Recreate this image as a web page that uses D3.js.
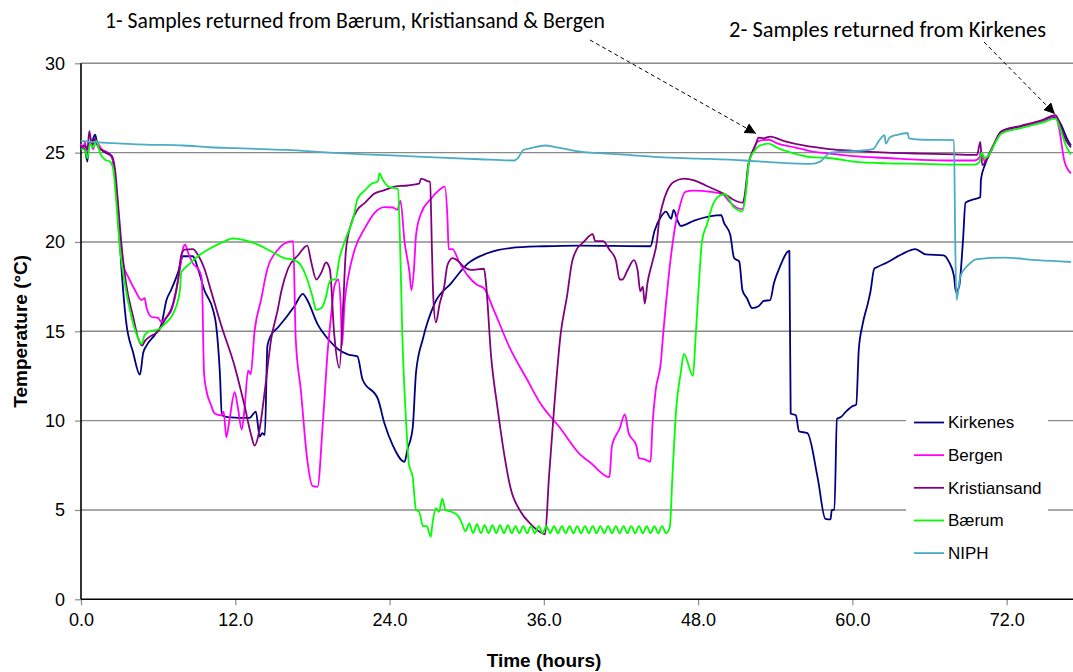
<!DOCTYPE html>
<html>
<head>
<meta charset="utf-8">
<script src="https://cdn.jsdelivr.net/npm/d3@7"></script>
<style>
  html, body { margin: 0; padding: 0; background: #fff; }
  svg { display: block; font-family: "Liberation Sans", Arial, sans-serif; }
</style>
</head>
<body>
<svg id="chart" width="1073" height="672"></svg>
<script>
// ---- data (hours, °C) ----
const seriesNames = ["Kirkenes", "Bergen", "Kristiansand", "Bærum", "NIPH"];
const yTicks = [0, 5, 10, 15, 20, 25, 30];
const xTicks = [0, 12, 24, 36, 48, 60, 72];

const kirkenes = [[0,25.3],[0.3,25.2],[0.5,24.5],[0.6,25.4],[0.85,25.6],[1.1,26.0],[1.3,25.4],[1.9,25.0],[2.4,24.8],[2.6,23.9],[2.9,21.4],[3.15,18.5],[3.5,15.6],[4.06,13.8],[4.58,12.57],[4.84,13.8],[5.1,14.2],[5.74,14.8],[6.26,15.4],[6.65,16.75],[7.0,17.3],[7.55,18.3],[7.94,19.2],[8.7,19.2],[9.1,18.5],[9.6,17.3],[10.27,16.2],[10.5,15.4],[10.8,12.7],[10.96,10.3],[11.4,10.2],[13.1,10.15],[13.6,10.5],[13.9,9.1],[14.1,9.3],[14.3,9.2],[14.5,14.2],[14.8,14.8],[15.3,15.2],[16.6,16.4],[17.25,17.1],[17.6,16.75],[18.4,15.4],[19.3,14.5],[20.0,14.0],[20.8,13.7],[21.5,13.6],[21.9,12.3],[23.1,11.2],[23.6,9.85],[24.26,8.6],[25.16,7.7],[25.4,8.4],[25.8,9.6],[26.06,12.7],[26.6,14.6],[27.5,16.55],[28.8,17.7],[30.1,18.8],[31.6,19.37],[33.4,19.66],[36.0,19.76],[38.7,19.8],[44.3,19.76],[44.6,20.6],[45.1,21.4],[45.5,21.7],[45.9,21.3],[46.1,21.8],[46.4,21.2],[46.65,20.9],[47.7,21.2],[49.0,21.45],[49.8,21.5],[50.0,21.1],[50.5,20.4],[50.8,19.1],[51.2,18.9],[51.45,17.3],[51.8,16.85],[52.2,16.3],[52.7,16.4],[53.1,16.7],[53.6,16.75],[53.9,17.7],[54.3,18.5],[55.1,19.5],[55.2,10.4],[55.6,10.3],[55.85,9.4],[56.5,9.3],[57.3,6.8],[57.9,4.5],[58.3,4.47],[58.4,5.0],[58.6,5.0],[58.8,10.1],[59.1,10.2],[59.5,10.5],[60.0,10.8],[60.3,10.9],[60.5,14.0],[60.8,15.4],[61.2,16.55],[61.4,17.2],[61.7,18.5],[61.95,18.6],[62.7,18.85],[63.8,19.3],[64.9,19.6],[65.7,19.3],[67.1,19.25],[67.5,18.9],[67.9,18.1],[68.05,17.2],[68.3,17.5],[68.6,20.05],[68.8,22.2],[69.5,22.4],[69.95,22.5],[70.0,23.5],[70.3,24.3],[70.8,25.1],[71.6,26.2],[73.1,26.46],[74.7,26.75],[75.8,27.0],[76.2,26.6],[76.75,25.7],[77.0,25.4]];

const bergen = [[0,25.5],[0.2,25.2],[0.3,25.6],[0.45,25.1],[0.7,25.6],[0.95,25.2],[1.14,25.65],[1.6,25.2],[2.25,24.9],[2.5,24.5],[2.77,22.6],[3.0,20.05],[3.3,18.7],[3.7,18.0],[4.2,17.3],[4.7,16.75],[4.95,16.85],[5.1,16.3],[5.5,15.8],[6.0,15.75],[6.26,15.5],[6.65,15.8],[7.0,16.1],[7.4,17.2],[7.7,18.5],[7.94,19.66],[8.1,19.85],[8.33,19.4],[8.7,18.8],[9.2,18.4],[9.4,17.9],[9.57,12.67],[9.75,11.7],[10.1,10.9],[10.4,10.4],[10.9,10.3],[11.1,10.5],[11.3,9.07],[11.56,10.1],[11.95,11.6],[12.2,10.75],[12.5,9.5],[12.7,10.5],[13.0,12.8],[13.2,12.6],[13.5,15.0],[14.0,16.75],[14.5,18.5],[15.3,19.55],[15.8,19.9],[16.5,20.05],[16.7,14.6],[17.1,11.7],[17.6,7.8],[18.0,6.35],[18.4,6.3],[18.8,9.75],[19.2,14.0],[19.5,16.2],[19.7,17.5],[20.0,17.9],[20.2,16.5],[20.3,14.2],[20.5,16.55],[20.8,18.1],[21.3,19.6],[22.1,20.8],[22.8,21.6],[23.6,21.95],[24.26,21.93],[24.6,21.8],[24.85,22.3],[25.16,20.05],[25.55,18.3],[25.7,17.3],[25.9,18.5],[26.06,20.4],[26.45,21.6],[27.2,22.4],[27.7,22.8],[28.3,23.1],[28.5,21.4],[28.6,19.6],[28.9,19.6],[29.4,18.9],[30.1,18.1],[30.8,17.6],[31.35,17.4],[32.1,16.2],[33.4,14.0],[34.7,12.3],[35.7,11.0],[37.3,9.56],[38.7,8.2],[39.7,7.6],[41.1,6.84],[41.3,8.6],[41.9,9.56],[42.3,10.35],[42.6,9.3],[43.2,8.6],[43.4,7.9],[43.8,7.85],[44.3,7.7],[44.45,9.75],[44.7,11.7],[45.1,13.25],[45.3,15.0],[45.5,16.55],[45.9,19.27],[46.3,21.2],[46.5,21.8],[47.0,22.8],[47.6,22.87],[49.0,22.8],[49.9,22.67],[50.5,22.2],[51.05,21.9],[51.45,21.84],[51.7,22.8],[51.96,24.5],[52.35,25.2],[52.6,25.6],[53.0,25.7],[53.5,25.72],[54.2,25.5],[55.5,25.3],[56.8,25.07],[58.2,24.95],[60.1,24.8],[62.7,24.7],[65.3,24.6],[67.9,24.56],[69.5,24.56],[69.9,24.75],[70.0,25.1],[70.3,24.5],[70.6,24.9],[71.6,26.1],[73.1,26.4],[74.7,26.75],[75.8,27.05],[76.1,26.27],[76.5,24.5],[77.0,23.84]];

const kristiansand = [[0,25.3],[0.3,25.4],[0.5,25.2],[0.65,26.2],[0.85,25.4],[1.1,25.8],[1.35,25.3],[1.86,25.05],[2.4,24.8],[2.64,24.1],[2.9,22.0],[3.15,19.85],[3.5,17.7],[4.06,15.8],[4.45,14.6],[4.76,14.2],[4.96,14.45],[5.35,14.7],[6.0,15.0],[6.5,15.6],[7.16,16.55],[7.55,17.9],[7.8,19.27],[8.07,19.57],[8.7,19.6],[9.1,19.27],[9.6,18.5],[10.1,17.3],[10.9,15.35],[11.95,13.05],[12.7,10.9],[13.25,9.15],[13.5,8.6],[13.9,9.56],[14.3,11.7],[14.8,14.6],[15.3,16.2],[15.6,17.3],[16.1,18.5],[16.9,19.27],[17.6,19.8],[17.9,18.9],[18.3,17.9],[18.7,18.3],[19.06,18.85],[19.35,18.5],[19.7,14.8],[20.1,12.96],[20.4,16.55],[20.6,19.47],[21.0,21.0],[21.5,21.8],[22.1,22.2],[22.8,22.7],[23.6,22.9],[24.4,23.1],[25.4,23.16],[26.3,23.26],[26.45,23.55],[26.97,23.4],[27.15,23.35],[27.3,19.47],[27.4,16.95],[27.6,15.5],[27.9,16.55],[28.25,17.5],[28.5,18.7],[28.9,19.1],[29.3,18.95],[29.8,18.6],[30.3,18.44],[31.35,18.5],[31.5,17.7],[31.9,13.6],[32.4,10.7],[32.9,8.2],[33.4,6.26],[34.2,4.9],[35.0,4.2],[35.7,3.77],[36.1,3.64],[36.4,6.84],[36.8,10.7],[37.3,14.8],[37.8,16.95],[38.2,18.9],[38.5,19.5],[39.1,20.0],[39.8,20.44],[40.0,20.05],[40.6,20.05],[41.1,19.57],[41.6,18.98],[41.9,17.9],[42.1,17.9],[42.5,18.4],[43.0,18.98],[43.3,18.4],[43.5,17.24],[43.7,17.5],[43.85,16.55],[44.06,17.7],[44.45,18.9],[44.8,20.05],[44.97,21.2],[45.2,22.0],[45.6,22.87],[46.1,23.36],[46.9,23.55],[47.7,23.45],[48.6,23.16],[49.5,22.87],[50.3,22.58],[50.8,22.35],[51.45,22.2],[51.6,22.5],[51.9,24.3],[52.2,25.0],[52.5,25.5],[52.7,25.84],[53.1,25.8],[53.6,25.9],[54.7,25.65],[56.2,25.4],[58.2,25.2],[60.1,25.1],[62.7,25.0],[65.3,24.95],[67.9,24.9],[69.7,24.87],[69.95,25.6],[70.1,24.3],[70.5,24.7],[70.9,25.3],[71.6,26.2],[73.1,26.5],[74.7,26.8],[75.8,27.1],[76.2,26.5],[76.6,25.7],[77.0,25.3]];

const baerum = [[0,25.2],[0.3,25.15],[0.5,24.7],[0.7,25.5],[0.95,25.3],[1.2,25.65],[1.47,25.0],[1.86,24.6],[2.25,24.5],[2.5,24.1],[2.77,22.0],[3.0,19.85],[3.4,17.7],[3.93,15.8],[4.45,14.6],[4.7,14.3],[4.96,14.8],[5.35,15.0],[6.0,15.1],[6.5,15.4],[7.3,16.2],[7.7,17.33],[7.8,18.3],[8.33,18.7],[9.1,19.2],[10.1,19.66],[11.2,20.05],[11.8,20.2],[12.7,20.1],[13.76,19.85],[14.8,19.47],[15.8,19.1],[16.6,18.98],[17.1,18.7],[17.6,17.9],[18.0,16.95],[18.3,16.2],[18.7,16.3],[19.06,16.95],[19.3,17.7],[19.5,17.9],[19.8,17.9],[20.1,19.08],[20.6,20.2],[21.2,21.4],[21.5,22.4],[22.1,22.9],[22.6,23.26],[23.1,23.4],[23.2,23.84],[23.5,23.45],[23.9,23.1],[24.65,22.96],[24.8,20.4],[25.0,14.6],[25.3,9.75],[25.5,7.6],[25.8,6.84],[26.06,5.0],[26.3,4.9],[26.6,4.1],[26.9,4.1],[27.2,3.5],[27.35,4.3],[27.6,5.1],[27.85,4.9],[28.1,5.64],[28.35,5.0],[28.8,4.9],[29.3,4.7],[29.6,4.3],
  [29.9,3.8],[30.2,4.25],[30.5,3.7],[30.8,4.2],[31.1,3.7],[31.4,4.15],[31.7,3.7],[32.0,4.15],[32.3,3.7],[32.6,4.15],[32.9,3.7],[33.2,4.15],[33.5,3.7],[33.8,4.1],[34.1,3.7],[34.4,4.1],[34.7,3.7],[35.0,4.1],[35.3,3.7],[35.6,4.1],[35.9,3.7],[36.2,4.1],[36.5,3.7],[36.8,4.1],[37.1,3.7],[37.4,4.1],[37.7,3.7],[38.0,4.1],[38.3,3.7],[38.6,4.1],[38.9,3.7],[39.2,4.1],[39.5,3.7],[39.8,4.1],[40.1,3.7],[40.4,4.1],[40.7,3.7],[41.0,4.1],[41.3,3.7],[41.6,4.1],[41.9,3.7],[42.2,4.1],[42.5,3.7],[42.8,4.1],[43.1,3.7],[43.4,4.1],[43.7,3.7],[44.0,4.1],[44.3,3.7],[44.6,4.1],[44.9,3.7],[45.2,4.1],[45.5,3.7],[45.8,4.05],
  [46.0,6.84],[46.3,10.7],[46.65,12.67],[46.9,13.74],[47.6,12.5],[47.8,14.6],[48.1,18.1],[48.3,20.05],[48.7,21.0],[49.1,22.0],[49.5,22.5],[50.0,22.67],[50.3,22.54],[50.7,22.0],[51.05,21.8],[51.45,21.7],[51.7,22.67],[51.96,24.5],[52.35,25.07],[52.6,25.3],[53.0,25.45],[53.5,25.5],[54.2,25.26],[55.5,24.95],[56.8,24.75],[58.2,24.7],[60.1,24.5],[62.7,24.4],[65.3,24.37],[67.9,24.33],[69.5,24.33],[69.9,24.5],[70.05,25.0],[70.3,24.7],[70.6,24.85],[71.0,25.4],[71.6,26.07],[73.1,26.37],[74.7,26.66],[75.8,26.9],[76.2,26.27],[76.6,25.4],[77.0,24.9]];

const niph = [[0,25.65],[0.8,25.6],[2,25.55],[5,25.45],[8,25.4],[10,25.3],[12,25.25],[14,25.2],[16,25.15],[19.3,25.0],[22,24.9],[25,24.82],[28,24.72],[31,24.63],[33.7,24.56],[34.0,24.7],[34.4,25.15],[35,25.25],[36.1,25.4],[37,25.3],[38.7,25.07],[42,24.9],[45,24.75],[48,24.67],[51.6,24.56],[54,24.45],[56.75,24.37],[57.5,24.5],[58.3,25.0],[60,25.08],[61.6,25.2],[62.1,25.7],[62.5,25.98],[62.6,25.5],[62.9,25.85],[63.5,26.0],[64.3,26.1],[64.4,25.8],[65.5,25.72],[67.9,25.7],[68.0,20.0],[68.1,16.75],[68.4,18.1],[69.0,18.7],[69.7,19.04],[71.8,19.12],[74.4,18.98],[77.0,18.88]];

const seriesValues = [kirkenes, bergen, kristiansand, baerum, niph];
const seriesColors = ["#000080", "#ff00ff", "#800080", "#00ff00", "#4bacc6"];

const notes = [
  { text: "1- Samples returned from Bærum, Kristiansand & Bergen", t: 52.5, v: 25.9 },
  { text: "2- Samples returned from Kirkenes", t: 75.75, v: 27.0 }
];

// ---- layout ----
const W = 1073, H = 672;
const svg = d3.select("#chart");
const x = d3.scaleLinear().domain([0, 77.16]).range([81, 1073]);
const y = d3.scaleLinear().domain([0, 30]).range([599.3, 63.3]);

// gridlines
svg.append("g").selectAll("line").data(yTicks.filter(d => d > 0)).join("line")
  .attr("x1", x(0)).attr("x2", W)
  .attr("y1", d => y(d)).attr("y2", d => y(d))
  .attr("stroke", "#8a8a8a").attr("stroke-width", 1.4);

// axes
const yAxis = svg.append("g").attr("transform", `translate(${x(0)},0)`)
  .call(d3.axisLeft(y).tickValues(yTicks).tickSize(6).tickPadding(10).tickFormat(d3.format("d")));
const xAxis = svg.append("g").attr("transform", `translate(0,${y(0)})`)
  .call(d3.axisBottom(x).tickValues(xTicks).tickSize(6).tickPadding(8).tickFormat(d3.format(".1f")));
[yAxis, xAxis].forEach(a => {
  a.select(".domain").remove();
  a.selectAll(".tick line").attr("stroke", "#8a8a8a").attr("stroke-width", 1.2);
  a.selectAll(".tick text").attr("fill", "#000").style("font-size", "18px")
    .style("font-family", "'Liberation Sans', Arial, sans-serif");
});
svg.append("line").attr("x1", x(0)).attr("x2", x(0)).attr("y1", y(30)).attr("y2", y(0))
  .attr("stroke", "#000").attr("stroke-width", 1.6);
svg.append("line").attr("x1", x(0)).attr("x2", W).attr("y1", y(0)).attr("y2", y(0))
  .attr("stroke", "#000").attr("stroke-width", 1.6);

// series
const line = d3.line().x(d => x(d[0])).y(d => y(d[1])).curve(d3.curveMonotoneX);
svg.append("g").selectAll("path").data(seriesValues).join("path")
  .attr("d", line)
  .attr("fill", "none")
  .attr("stroke", (d, i) => seriesColors[i])
  .attr("stroke-width", 1.8)
  .attr("stroke-linejoin", "round");

// legend
const legTop = 422.5, legStep = 32.65;
const legG = svg.append("g");
legG.append("rect").attr("x", 906).attr("y", legTop - 18).attr("width", 142)
  .attr("height", legStep * 4 + 36).attr("fill", "#fff");
seriesNames.forEach((name, i) => {
  const ly = legTop + i * legStep;
  legG.append("line").attr("x1", 914).attr("x2", 944).attr("y1", ly).attr("y2", ly)
    .attr("stroke", seriesColors[i]).attr("stroke-width", 1.8);
  legG.append("text").attr("x", 948).attr("y", ly).attr("dy", "0.35em")
    .style("font-size", "17px").text(name);
});

// axis titles
svg.append("text").attr("transform", `translate(27,${(y(0) + y(30)) / 2}) rotate(-90)`)
  .attr("text-anchor", "middle").style("font-size", "19px").style("font-weight", "bold")
  .text("Temperature (°C)");
svg.append("text").attr("x", 544).attr("y", 667)
  .attr("text-anchor", "middle").style("font-size", "19px").style("font-weight", "bold")
  .text("Time (hours)");

// annotations
svg.append("defs").append("marker")
  .attr("id", "arr").attr("viewBox", "0 0 10 10").attr("refX", 10).attr("refY", 5)
  .attr("markerWidth", 11).attr("markerHeight", 11).attr("markerUnits", "userSpaceOnUse")
  .attr("orient", "auto")
  .append("path").attr("d", "M0,0 L10,5 L0,10 z").attr("fill", "#000");

const noteFont = "Carlito, Calibri, 'Liberation Sans Narrow', 'Liberation Sans', sans-serif";
const noteLayout = [
  { x0: 105, base: 28, len: 500, sx: 590, sy: 40 },
  { x0: 729, base: 37, len: 317, sx: 984, sy: 42 }
];
notes.forEach((n, i) => {
  const L = noteLayout[i];
  svg.append("text").attr("x", L.x0).attr("y", L.base)
    .attr("textLength", L.len).attr("lengthAdjust", "spacingAndGlyphs")
    .style("font-family", noteFont).style("font-size", "21.5px").text(n.text);
  svg.append("line").attr("x1", L.sx).attr("y1", L.sy)
    .attr("x2", x(n.t)).attr("y2", y(n.v) - 3)
    .attr("stroke", "#000").attr("stroke-width", 1).attr("stroke-dasharray", "4,3")
    .attr("marker-end", "url(#arr)");
});
</script>
</body>
</html>
